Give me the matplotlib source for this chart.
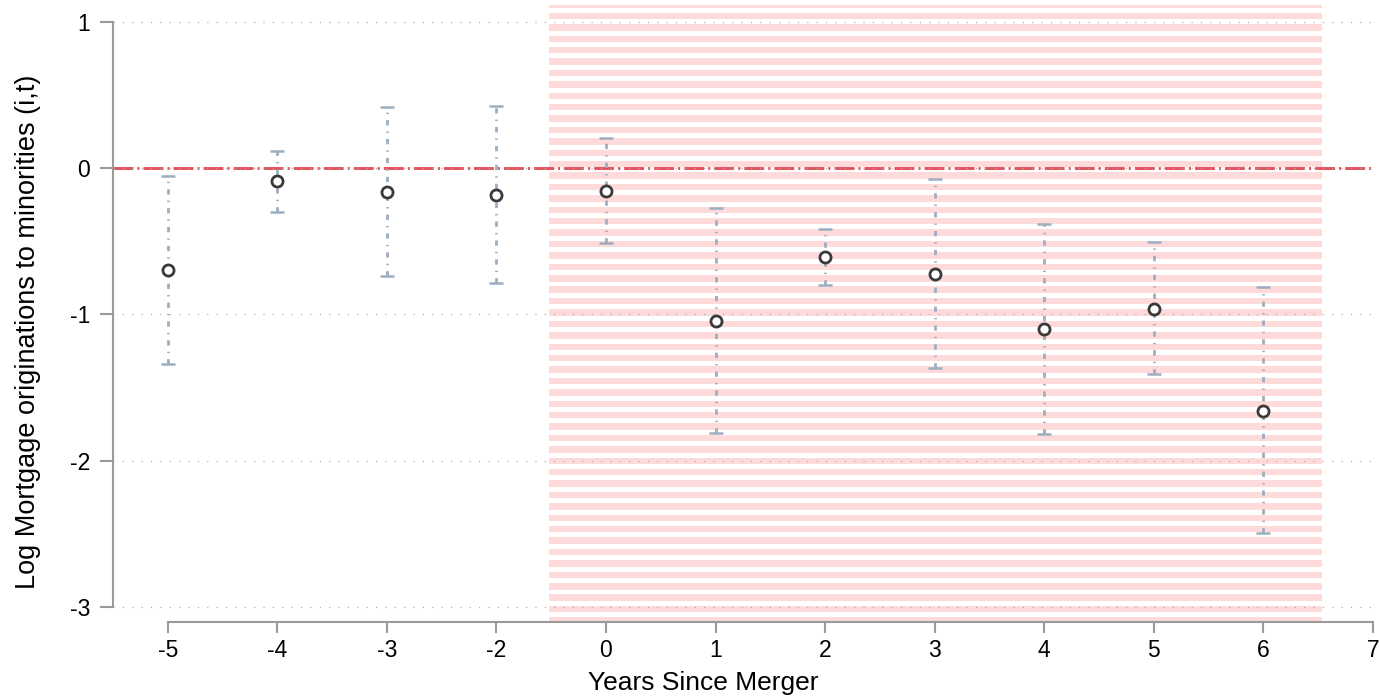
import numpy as np
import matplotlib
matplotlib.use("Agg")
import matplotlib.pyplot as plt

plt.rcParams['font.family'] = ['Liberation Sans', 'DejaVu Sans']

# event-study estimates, year -1 is the omitted reference period
years = [-5, -4, -3, -2, 0, 1, 2, 3, 4, 5, 6]
coef = [-0.696, -0.090, -0.165, -0.183, -0.156, -1.042, -0.610, -0.723, -1.102, -0.961, -1.658]
ci_lo = [-1.340, -0.297, -0.737, -0.785, -0.511, -1.810, -0.796, -1.366, -1.817, -1.407, -2.497]
ci_hi = [-0.056, 0.115, 0.416, 0.427, 0.204, -0.272, -0.413, -0.072, -0.381, -0.505, -0.810]

tick_labels = ["-5", "-4", "-3", "-2", "0", "1", "2", "3", "4", "5", "6", "7"]
y_ticks = [1, 0, -1, -2, -3]

# post-merger window, in tick positions
post_start, post_end = 3.48, 10.54

x = np.array([tick_labels.index(str(y)) for y in years])
coef = np.array(coef)
ci_lo = np.array(ci_lo)
ci_hi = np.array(ci_hi)

fig = plt.figure(figsize=(13.8, 6.99), dpi=100)
ax = fig.add_axes([0.0819, 0.1102, 0.9145, 0.8827])

ylo, yhi = -3.103, 1.116
ax.set_xlim(-0.5, 11.02)
ax.set_ylim(ylo, yhi)

# striped shading over the post-merger years
period, band = 0.078, 0.044
tops = np.arange(1.141, ylo - period, -period)
ax.bar(np.full(len(tops), (post_start + post_end) / 2), band,
       width=post_end - post_start, bottom=tops - band,
       color='#FFDADB', linewidth=0, zorder=0)

ax.axhline(0, color='#E2525A', lw=2.1, dashes=(6.8, 1.4, 0.7, 1.4), zorder=2)

eb = ax.errorbar(x, coef, yerr=[coef - ci_lo, ci_hi - coef], fmt='none',
                 ecolor='#9DAEC0', elinewidth=2.0, capsize=5, capthick=1.8, zorder=3)
eb[2][0].set_linestyle((0, (1.9, 2.2, 0.5, 2.2)))
for cap in eb[1]:
    cap.set_color('#99AABB')

ax.plot(x, coef, 'o', ms=8, mfc='white', mec='#3A3A3A', mew=2.0, zorder=4)

ax.set_yticks(y_ticks)
ax.set_yticklabels([str(v) for v in y_ticks])
ax.set_xticks(range(len(tick_labels)))
ax.set_xticklabels(tick_labels)

ax.grid(axis='y', color='#A8A8A8', lw=0.9, dashes=(0.9, 6.6), zorder=1)
ax.set_axisbelow(False)

for s in ['top', 'right']:
    ax.spines[s].set_visible(False)
ax.spines['left'].set_bounds(-3, 1)
ax.spines['bottom'].set_bounds(0, 11)
for s in ['left', 'bottom']:
    ax.spines[s].set_color('#9A9A9A')
    ax.spines[s].set_linewidth(1.5)

ax.tick_params(axis='y', length=9.4, width=1.5, color='#9A9A9A', pad=7, labelsize=16.5)
ax.tick_params(axis='x', length=8, width=1.5, color='#9A9A9A', pad=4, labelsize=16.5)

ax.set_ylabel("Log Mortgage originations to minorities (i,t)", fontsize=19.5)
ax.set_xlabel("Years Since Merger", fontsize=19)
ax.yaxis.set_label_coords(-0.057, 0.470)
ax.xaxis.set_label_coords(0.4675, -0.080)

fig.savefig('out.png', dpi=100)
